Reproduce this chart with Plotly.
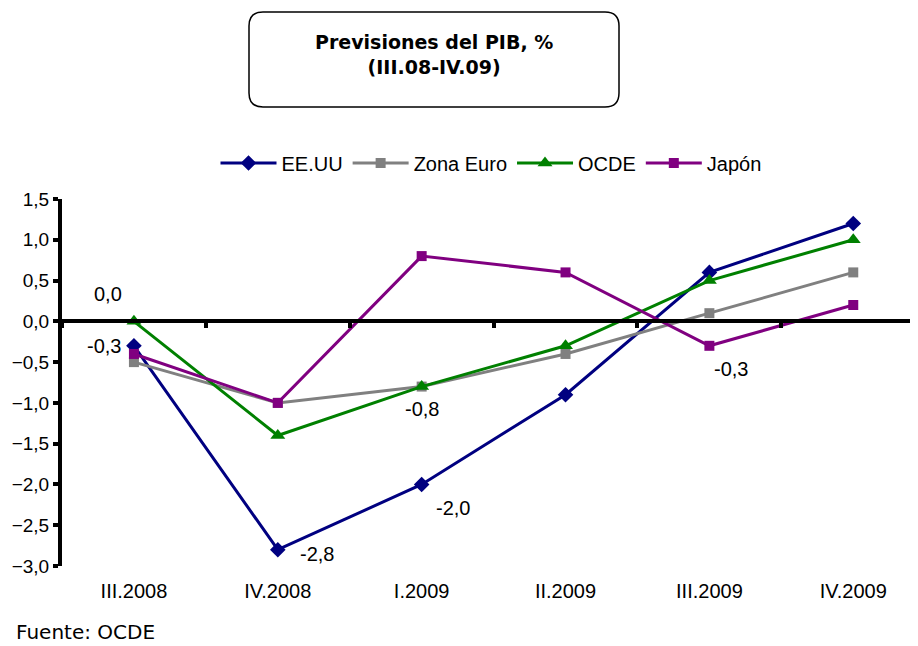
import plotly.graph_objects as go

categories = ["III.2008", "IV.2008", "I.2009", "II.2009", "III.2009", "IV.2009"]
eeuu = [-0.3, -2.8, -2.0, -0.9, 0.6, 1.2]
zona_euro = [-0.5, -1.0, -0.8, -0.4, 0.1, 0.6]
ocde = [0.0, -1.4, -0.8, -0.3, 0.5, 1.0]
japon = [-0.4, -1.0, 0.8, 0.6, -0.3, 0.2]

OFF = 8  # page body margin
W, H = 918 - OFF, 646 - OFF
L, R, T = 62 - OFF, 0, 199 - OFF
B = H - (566 - OFF)
pw, ph = W - L - R, H - T - B

def px2paper(x, y):
    # x, y given in reference-page pixels
    x, y = x - OFF, y - OFF
    return (x - L) / pw, (H - B - y) / ph

fig = go.Figure()
series = [
    ("EE.UU", eeuu, "#000080", "diamond", 12),
    ("Zona Euro", zona_euro, "#808080", "square", 10),
    ("OCDE", ocde, "#008000", "triangle-up", 13),
    ("Japón", japon, "#800080", "square", 10),
]
for name, vals, col, sym, sz in series:
    fig.add_trace(go.Scatter(
        x=categories, y=vals, name=name, mode="lines+markers",
        line=dict(color=col, width=3),
        marker=dict(symbol=sym, size=sz, color=col),
    ))

# data labels
labels = [
    (categories[0], ocde[0], -26, 27),
    (categories[0], eeuu[0], -30, 0),
    (categories[1], eeuu[1], 39, -4),
    (categories[2], eeuu[2], 31, -24),
    (categories[2], ocde[2], 0, -22),
    (categories[4], japon[4], 22, -23),
]
annotations = []
for cx, v, dx, dy in labels:
    annotations.append(dict(
        x=cx, y=v, xref="x", yref="y", text=f"{v:.1f}".replace(".", ","),
        showarrow=False, xshift=dx, yshift=dy,
        font=dict(family="Liberation Sans, Arial, sans-serif", size=20, color="black"),
    ))

# title
tx, ty = px2paper(434, 54)
annotations.append(dict(
    x=tx, y=ty, xref="paper", yref="paper", showarrow=False,
    text="<b>Previsiones del PIB, %</b><br><b>(III.08-IV.09)</b>",
    font=dict(family="DejaVu Sans, Verdana, sans-serif", size=19, color="black"),
    xanchor="center", yanchor="middle",
))
fx, fy = px2paper(14, 646)
annotations.append(dict(
    x=fx, y=fy, xref="paper", yref="paper", showarrow=False,
    text="Fuente: OCDE", xanchor="left", yanchor="bottom",
    font=dict(family="DejaVu Sans, Verdana, sans-serif", size=20, color="black"),
))

# rounded title box
x0, y0 = px2paper(249, 107)
x1, y1 = px2paper(619, 12)
rx, ry = 14 / pw, 14 / ph
path = (f"M {x0+rx},{y1} L {x1-rx},{y1} Q {x1},{y1} {x1},{y1-ry} "
        f"L {x1},{y0+ry} Q {x1},{y0} {x1-rx},{y0} L {x0+rx},{y0} "
        f"Q {x0},{y0} {x0},{y0+ry} L {x0},{y1-ry} Q {x0},{y1} {x0+rx},{y1} Z")

lx, ly = px2paper(491, 163)

fig.update_layout(
    width=W, height=H,
    margin=dict(l=L, r=R, t=T, b=B),
    paper_bgcolor="white", plot_bgcolor="white",
    separators=",.",
    showlegend=True,
    legend=dict(orientation="h", x=lx, y=ly, xanchor="center", yanchor="middle",
                font=dict(family="Liberation Sans, Arial, sans-serif", size=20, color="black"),
                itemwidth=56, tracegroupgap=0),
    annotations=annotations,
    shapes=[dict(type="path", path=path, xref="paper", yref="paper",
                 line=dict(color="black", width=1.5), fillcolor="white", layer="below")],
    xaxis=dict(
        type="category", range=[-0.5, 5.45],
        anchor="free", position=3 / 4.5,
        showline=True, linecolor="black", linewidth=4,
        ticks="outside", tickson="boundaries", ticklen=5, tickwidth=4, tickcolor="black",
        ticklabelstandoff=251,
        showgrid=False, zeroline=False,
        tickfont=dict(family="Liberation Sans, Arial, sans-serif", size=20, color="black"),
    ),
    yaxis=dict(
        range=[-3.0, 1.5], dtick=0.5, tickformat=".1f",
        showline=True, linecolor="black", linewidth=4,
        ticks="outside", ticklen=5, tickwidth=4, tickcolor="black",
        showgrid=False, zeroline=False,
        tickfont=dict(family="Liberation Sans, Arial, sans-serif", size=19, color="black"),
    ),
)

fig.write_html("out.html")
